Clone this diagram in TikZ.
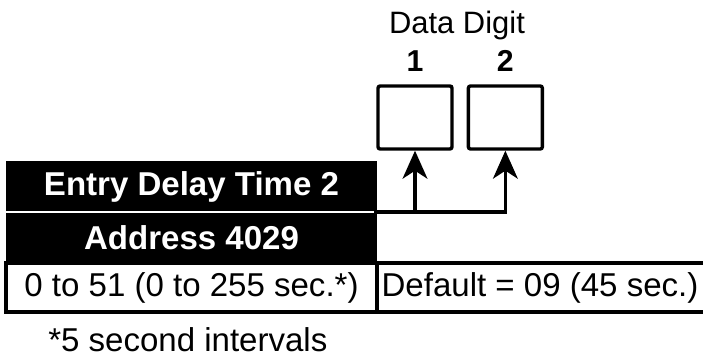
\documentclass[tikz,border=0pt]{standalone}
\usepackage{fontspec}
\setmainfont{Liberation Sans}
\usetikzlibrary{positioning,arrows.meta}
\tikzset{
  title/.style={fill=black, text=white, font=\fontsize{23.5pt}{28pt}\selectfont\bfseries, inner sep=0pt, outer sep=0pt, minimum width=9.275cm, minimum height=1.275cm},
  cell/.style={draw, line width=2.2pt, font=\fontsize{23.5pt}{28pt}\selectfont, inner sep=0pt, outer sep=0pt, minimum height=1.225cm},
  rule/.style={line width=2.2pt},
  digitbox/.style={draw, line width=2.4pt, rounded corners=1.5pt, minimum width=1.85cm, minimum height=1.575cm, inner sep=0pt},
  digitlbl/.style={font=\fontsize{21.5pt}{26pt}\selectfont\bfseries, inner sep=0pt},
  feed/.style={line width=2.2pt, -{Stealth[length=0.7cm, width=0.62cm, inset=0.2cm]}},
}

\begin{document}
\begin{tikzpicture}
\useasboundingbox (0,0) rectangle (17.575,8.95);
% location table
\node (title) [title, anchor=north west] at (0.150,4.925) {Entry Delay Time 2};
\node (addr) [title, below=0pt of title] {Address 4029};
\draw[white, line width=1.5pt] (title.south west) -- ([xshift=-2pt]title.south east);
\node (range) [cell, below=0pt of addr, minimum width=9.275cm] {0 to 51 (0 to 255 sec.*)};
\node (dflt) [cell, draw=none, right=0pt of range, minimum width=8.150cm] {Default = 09 (45 sec.)};
\draw[rule] (dflt.north west) -- (dflt.north east) (dflt.south west) -- (dflt.south east);
% data digits
\node (d1) [digitbox] at (10.375,6.0125) {};
\node (d2) [digitbox, right=0.325cm of d1] {};
\node (n1) [digitlbl, above=0.32cm of d1] {1};
\node (n2) [digitlbl, above=0.32cm of d2] {2};
\node (hdr) [font=\fontsize{22pt}{26pt}\selectfont, inner sep=0pt, anchor=base] at (11.425,8.100) {Data Digit};
\draw[feed] (title.south east) -| (d2.south);
\draw[feed] (title.south east -| d1.south) -- (d1.south);
\node (note) [font=\fontsize{23.5pt}{28pt}\selectfont, inner sep=0pt, anchor=base west] at (1.200,0.150) {*5 second intervals};
\end{tikzpicture}
\end{document}
